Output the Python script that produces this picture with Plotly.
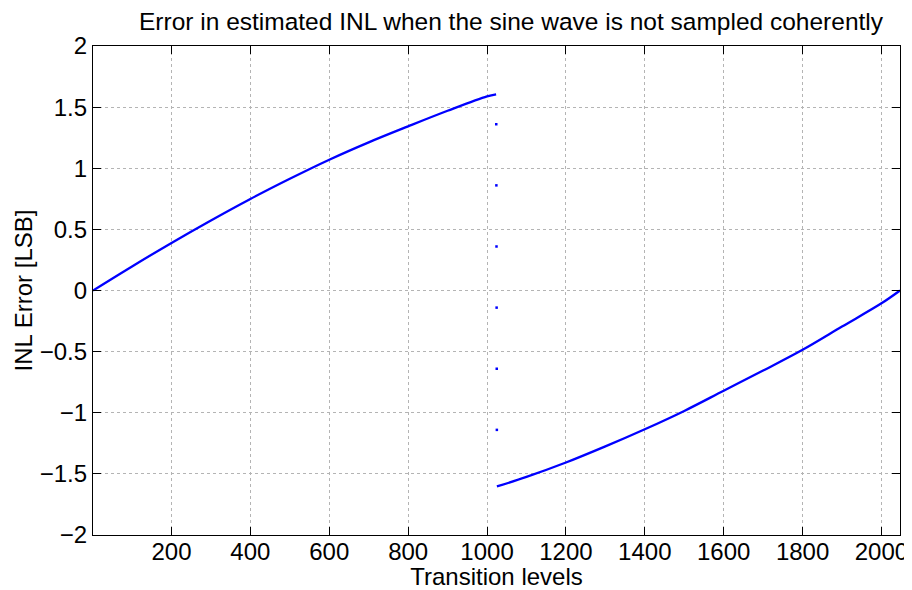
import plotly.graph_objects as go

# Upper branch (transition levels 1..1023)
upper_x = [1, 100, 200, 300, 400, 500, 600, 700, 800, 900, 1000, 1023]
upper_y = [0.0, 0.197, 0.389, 0.573, 0.749, 0.914, 1.070, 1.212, 1.343, 1.470, 1.588, 1.605]

# Lower branch (transition levels 1025..2047)
lower_x = [1025, 1100, 1200, 1300, 1400, 1500, 1600, 1700, 1800, 1900, 2000, 2047]
lower_y = [-1.603, -1.525, -1.407, -1.275, -1.135, -0.985, -0.820, -0.655, -0.485, -0.295, -0.105, 0.0]

# Sparse points of the jump between the branches
jump_x = [1023.4, 1023.7, 1024.0, 1024.3, 1024.6, 1024.9]
jump_y = [1.36, 0.86, 0.36, -0.14, -0.64, -1.14]

x_ticks = [200, 400, 600, 800, 1000, 1200, 1400, 1600, 1800, 2000]
y_ticks = [-2, -1.5, -1, -0.5, 0, 0.5, 1, 1.5, 2]
y_tick_text = ["\u22122", "\u22121.5", "\u22121", "\u22120.5", "0", "0.5", "1", "1.5", "2"]

FONT = "Liberation Sans, Arial, Helvetica, sans-serif"

fig = go.Figure()
fig.add_trace(go.Scatter(x=upper_x, y=upper_y, mode="lines",
                         line=dict(color="#0000ff", width=2.3, shape="spline"),
                         showlegend=False))
fig.add_trace(go.Scatter(x=lower_x, y=lower_y, mode="lines",
                         line=dict(color="#0000ff", width=2.3, shape="spline"),
                         showlegend=False))
fig.add_trace(go.Scatter(x=jump_x, y=jump_y, mode="markers",
                         marker=dict(color="#0000ff", size=2.5, symbol="square"),
                         showlegend=False))

axis_common = dict(
    showline=True, linecolor="black", linewidth=1.2, mirror="allticks",
    ticks="inside", ticklen=8, tickcolor="black", tickwidth=1,
    showgrid=True, gridcolor="#b4b4b4", griddash="dot", gridwidth=1,
    zeroline=False, automargin=False,
    tickfont=dict(family=FONT, size=24, color="black"),
)

fig.update_xaxes(range=[1, 2047], tickvals=x_ticks, ticklabelstandoff=-5,
                 title=dict(text="Transition levels", standoff=6,
                            font=dict(family=FONT, size=24, color="black")),
                 **axis_common)
fig.update_yaxes(range=[-2, 2], tickvals=y_ticks, ticktext=y_tick_text,
                 title=dict(text="INL Error [LSB]", standoff=0,
                            font=dict(family=FONT, size=24, color="black")),
                 **axis_common)

# The page adds an 8px body margin, so the figure is 8px smaller and offset.
fig.update_layout(
    width=904, height=582,
    paper_bgcolor="white", plot_bgcolor="white",
    margin=dict(l=85, r=12, t=38, b=55),
    title=dict(text="Error in estimated INL when the sine wave is not sampled coherently",
               x=0.518, xref="paper", xanchor="center", y=0.977, yanchor="middle",
               font=dict(family=FONT, size=24.5, color="black")),
)

fig.write_html("out.html")
